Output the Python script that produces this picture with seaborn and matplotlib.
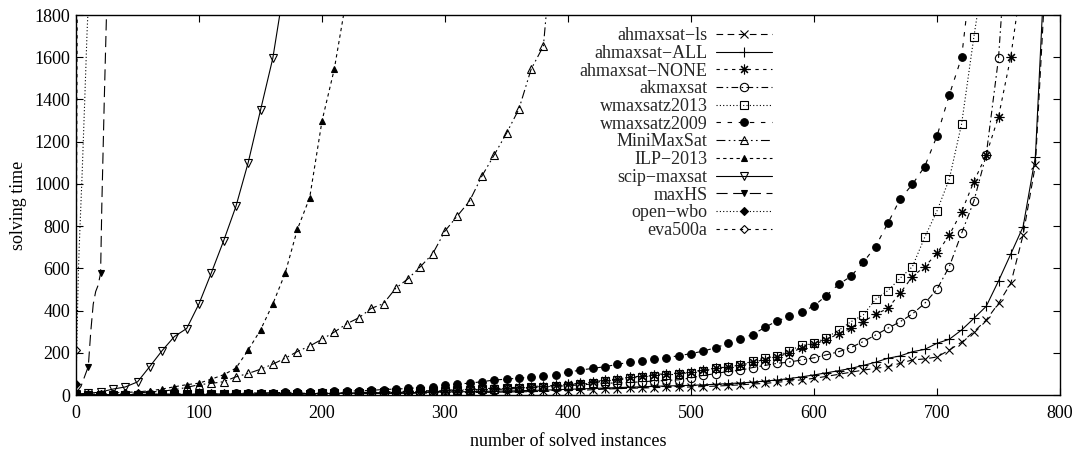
import numpy as np
import pandas as pd
import matplotlib
matplotlib.use("Agg")
import matplotlib.pyplot as plt
from matplotlib.lines import Line2D
import seaborn as sns

# ---------------- data (solving time of the k-th solved instance) ----------------
ls_x = list(range(0, 790, 10)) + [787]
ls_y = [1, 1, 1, 1, 1, 1, 2, 2, 2, 2, 2, 2, 3, 3, 3, 3, 4, 4, 4, 5,
        5, 5, 6, 6, 7, 7, 8, 8, 9, 9, 10, 11, 12, 12, 13, 14, 15, 16, 17, 18,
        20, 22, 25, 28, 30, 32, 33, 35, 36, 37, 38, 40, 42, 45, 48, 52, 55, 60, 66, 72,
        79, 88, 98, 108, 118, 126, 134, 150, 166, 171, 180, 213, 250, 300, 355, 434, 529, 758, 1090,
        1850]

all_x = list(range(0, 790, 10)) + [786]
all_y = [1, 1, 1, 1, 2, 2, 2, 2, 3, 3, 3, 3, 4, 4, 4, 5, 5, 5, 6, 6,
         7, 7, 8, 8, 9, 10, 10, 11, 12, 13, 14, 15, 16, 17, 18, 19, 20, 22, 23, 25,
         27, 29, 31, 33, 35, 37, 39, 41, 43, 44, 46, 48, 51, 54, 57, 61, 66, 71, 78, 86,
         95, 105, 115, 126, 140, 155, 174, 185, 205, 216, 245, 264, 308, 363, 420, 540, 668, 797, 1129,
         1850]

none_x = list(range(0, 770, 10)) + [766]
none_y = [1, 1, 1, 2, 2, 2, 3, 3, 3, 4, 4, 4, 5, 5, 6, 6, 7, 7, 8, 9,
          9, 10, 11, 12, 13, 15, 16, 18, 19, 21, 23, 25, 27, 30, 32, 34, 37, 40, 43, 46,
          50, 55, 62, 70, 76, 84, 90, 97, 101, 104, 110, 118, 126, 133, 140, 155, 168, 180, 200, 222,
          240, 262, 290, 316, 347, 382, 410, 482, 561, 608, 671, 758, 868, 1011, 1137, 1318, 1603,
          1850]

ak_x = list(range(0, 760, 10)) + [753]
ak_y = [1, 1, 1, 1, 1, 2, 2, 2, 2, 2, 3, 3, 3, 4, 4, 4, 5, 5, 6, 6,
        7, 7, 8, 9, 10, 11, 12, 13, 14, 16, 18, 20, 22, 24, 26, 28, 31, 34, 37, 40,
        44, 48, 52, 55, 58, 59, 63, 66, 69, 72, 81, 93, 101, 112, 117, 130, 140, 150, 156, 166,
        176, 190, 205, 225, 253, 284, 316, 347, 384, 434, 501, 608, 766, 919, 1137, 1595,
        1850]

w13_x = list(range(0, 740, 10)) + [734]
w13_y = [1, 1, 1, 2, 2, 2, 2, 3, 3, 3, 3, 4, 4, 4, 5, 5, 6, 6, 7, 7,
         8, 9, 10, 11, 12, 13, 14, 16, 17, 19, 21, 23, 25, 27, 29, 31, 33, 36, 39, 42,
         45, 50, 58, 66, 71, 79, 85, 92, 95, 99, 106, 114, 127, 135, 140, 162, 174, 185, 210, 235,
         244, 272, 306, 347, 379, 453, 494, 553, 608, 747, 872, 1023, 1284, 1697,
         1850]

w09_x = list(range(0, 730, 10)) + [725]
w09_y = [1, 2, 2, 3, 3, 3, 4, 4, 5, 5, 6, 7, 7, 8, 9, 10, 11, 12, 13, 14,
         15, 17, 18, 20, 22, 26, 28, 31, 35, 40, 46, 52, 56, 63, 71, 75, 80, 84, 91, 96,
         108, 118, 126, 134, 145, 155, 160, 169, 177, 186, 196, 208, 224, 244, 266, 286, 320, 351, 372, 393,
         422, 471, 524, 562, 628, 703, 813, 928, 998, 1082, 1227, 1421, 1600,
         1850]

mms_x = list(range(0, 390, 10)) + [383]
mms_y = [3, 4, 5, 6, 8, 10, 14, 18, 25, 36, 49, 55, 63, 86, 102, 122, 146, 174, 206, 232,
         264, 298, 337, 366, 410, 433, 506, 551, 608, 669, 777, 848, 919, 1037, 1137, 1240, 1353, 1543, 1653,
         1850]

ilp_x = list(range(0, 220, 10)) + [219]
ilp_y = [5, 6, 8, 10, 12, 15, 20, 28, 39, 49, 56, 75, 96, 127, 213, 308, 431, 576, 785, 935,
         1298, 1544, 1850]

scip_x = list(range(0, 170, 10)) + [167]
scip_y = [5, 8, 14, 28, 38, 62, 135, 210, 277, 315, 432, 578, 730, 893, 1101, 1349, 1595, 1850]

maxhs_x = [0, 4, 10, 12, 14, 16, 18, 20, 21, 23, 25]
maxhs_y = [10, 40, 135, 300, 430, 490, 520, 578, 900, 1400, 1850]

owbo_x = [0, 1, 2, 3, 5, 7, 9, 10]
owbo_y = [50, 330, 600, 760, 1050, 1380, 1720, 1850]

eva_x = [0, 1]
eva_y = [215, 1850]

names = ["ahmaxsat\u2212ls", "ahmaxsat\u2212ALL", "ahmaxsat\u2212NONE", "akmaxsat",
         "wmaxsatz2013", "wmaxsatz2009", "MiniMaxSat", "ILP\u22122013",
         "scip\u2212maxsat", "maxHS", "open\u2212wbo", "eva500a"]
xs_all = [ls_x, all_x, none_x, ak_x, w13_x, w09_x, mms_x, ilp_x, scip_x, maxhs_x, owbo_x, eva_x]
ys_all = [ls_y, all_y, none_y, ak_y, w13_y, w09_y, mms_y, ilp_y, scip_y, maxhs_y, owbo_y, eva_y]

x_ticks = [0, 100, 200, 300, 400, 500, 600, 700, 800]
y_ticks = [0, 200, 400, 600, 800, 1000, 1200, 1400, 1600, 1800]

# ---------------- styles ----------------
LW = 0.8
styles = [
    dict(ls=(0, (6, 4)), m="x", ms=6, mfc="black"),
    dict(ls="-", m="+", ms=7, mfc="black"),
    dict(ls=(0, (3, 4)), m=(8, 2, 0), ms=7, mfc="black"),
    dict(ls=(0, (6, 3, 1.5, 3)), m="o", ms=6, mfc="none"),
    dict(ls=(0, (1, 2)), m="s", ms=5.5, mfc="none"),
    dict(ls=(0, (4, 6)), m="o", ms=5.5, mfc="black"),
    dict(ls=(0, (8, 3, 1.5, 3, 1.5, 3)), m="^", ms=6, mfc="none"),
    dict(ls=(0, (3, 3)), m="^", ms=4.5, mfc="black"),
    dict(ls="-", m="v", ms=6, mfc="none"),
    dict(ls=(0, (10, 5)), m="v", ms=5, mfc="black"),
    dict(ls=(0, (1, 2)), m="D", ms=4, mfc="black"),
    dict(ls=(0, (3, 4)), m="D", ms=4.5, mfc="none"),
]

sns.set_theme(style="ticks")
plt.rcParams["font.family"] = ["Liberation Serif", "DejaVu Serif"]
plt.rcParams["axes.unicode_minus"] = True

fig = plt.figure(figsize=(10.75, 4.5), dpi=100)
ax = fig.add_axes([76 / 1075, 1 - 395 / 450, (1060 - 76) / 1075, 380 / 450])

handles = []
for name, xs, ys, st in zip(names, xs_all, ys_all, styles):
    df = pd.DataFrame({"x": xs, "y": ys})
    idx = [i for i, v in enumerate(xs) if v % 10 == 0]
    sns.lineplot(data=df, x="x", y="y", ax=ax, color="black", linestyle=st["ls"],
                 linewidth=LW, marker=st["m"], markersize=st["ms"],
                 markerfacecolor=st["mfc"], markeredgecolor="black",
                 markeredgewidth=0.8, markevery=idx, sort=False,
                 estimator=None, legend=False)
    handles.append(Line2D([], [], color="black", linestyle=st["ls"], linewidth=LW,
                          marker=st["m"], markersize=st["ms"],
                          markerfacecolor=st["mfc"], markeredgecolor="black",
                          markeredgewidth=0.8))

ax.set_xlim(0, 800)
ax.set_ylim(0, 1800)
ax.set_xticks(x_ticks)
ax.set_yticks(y_ticks)
ax.tick_params(direction="in", top=True, right=True, length=5, width=0.8,
               labelsize=13, colors="black")
ax.tick_params(axis="x", pad=7)
ax.tick_params(axis="y", pad=4)
for sp in ax.spines.values():
    sp.set_linewidth(1.0)
    sp.set_color("black")
    sp.set_visible(True)

ax.set_xlabel("number of solved instances", fontsize=13, color="black")
ax.set_ylabel("solving time", fontsize=13, color="black")
ax.xaxis.set_label_coords(0.5, -0.1)
ax.yaxis.set_label_coords(-0.05, 0.5)

leg = ax.legend(handles, names, loc="upper right", bbox_to_anchor=(0.707, 0.968),
                frameon=False, markerfirst=False, handlelength=3.1,
                handletextpad=0.45, labelspacing=0.04, borderpad=0,
                borderaxespad=0, fontsize=13, numpoints=1)

fig.savefig("out.png", dpi=100, facecolor="white")
